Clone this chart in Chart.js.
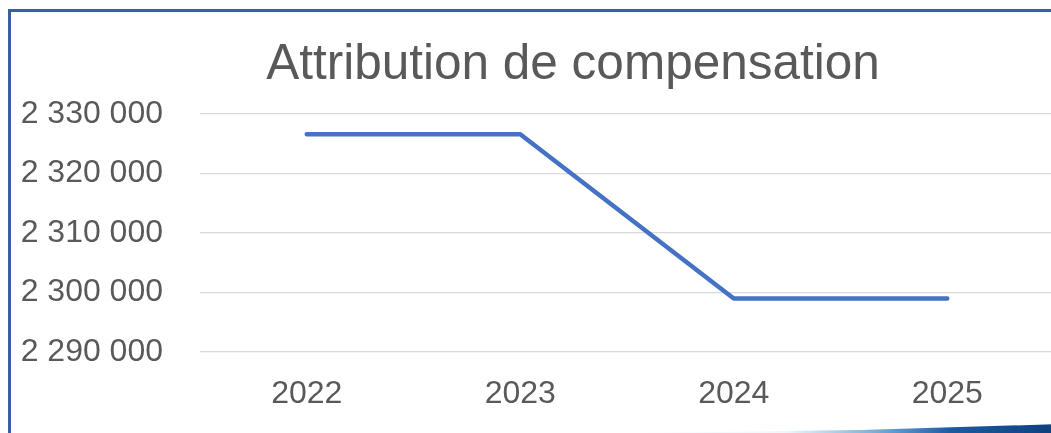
<!DOCTYPE html>
<html>
<head>
<meta charset="utf-8">
<script src="https://cdn.jsdelivr.net/npm/chart.js@4.4.1/dist/chart.umd.min.js"></script>
<style>
    html, body { margin: 0; padding: 0; background: #fff; overflow: hidden; }
    #frame {
        position: absolute; left: 8px; top: 9px; width: 1100px; height: 500px;
        border-left: 3px solid #3a5ea6; border-top: 3px solid #3a5ea6;
    }
    #swoosh {
        position: absolute; left: 560px; top: 412px; width: 500px; height: 22px;
        background: linear-gradient(to right, rgba(255,255,255,0) 0%, #eef8fc 45%, #7fb4dc 62%, #1d5aa3 78%, #0e3d7c 100%);
        clip-path: polygon(0% 100%, 60% 82%, 100% 55%, 100% 100%);
    }
    #wrap { position: absolute; left: 0; top: 0; width: 1054px; height: 433px; }
</style>
</head>
<body>
<div id="frame"></div>
<div id="swoosh"></div>
<div id="wrap"><canvas id="myChart"></canvas></div>
<script>
// --------------- data -----------------------
const years = ['2022', '2023', '2024', '2025'];
const compensation = [2326600, 2326600, 2299000, 2299000];
const yTicks = [2290000, 2300000, 2310000, 2320000, 2330000];
const chartTitle = 'Attribution de compensation';

const textColor = '#595959';
const fontFamily = '"Liberation Sans", Arial, sans-serif';

// --------------- format 2 330 000 -----------------------
function formatNumber(v) {
    return String(v).replace(/\B(?=(\d{3})+(?!\d))/g, ' ');
}

// title is centred a bit right of the canvas middle, like in the original
const shiftTitle = {
    id: 'shiftTitle',
    afterLayout(chart) {
        if (chart.titleBlock) chart.titleBlock.left = 92;
    }
};

// --------------- chart -----------------------
const ctx = document.getElementById('myChart').getContext('2d');
const myChart = new Chart(ctx, {
    type: 'line',
    data: {
        labels: years,
        datasets: [{
            label: chartTitle,
            data: compensation,
            borderColor: '#4472c4',
            borderWidth: 4.5,
            borderCapStyle: 'round',
            borderJoinStyle: 'round',
            pointRadius: 0,
            tension: 0,
            fill: false
        }]
    },
    plugins: [shiftTitle],
    options: {
        responsive: true,
        maintainAspectRatio: false,
        animation: false,
        layout: { padding: 0 },
        plugins: {
            legend: { display: false },
            tooltip: { enabled: false },
            title: {
                display: true,
                text: chartTitle,
                color: textColor,
                font: { family: fontFamily, size: 49.5, weight: 'normal', lineHeight: 1.2 },
                padding: { top: 36, bottom: 18.6 }
            }
        },
        scales: {
            x: {
                offset: true,
                grid: { display: false, drawTicks: false },
                border: { display: false },
                ticks: {
                    color: textColor,
                    padding: 23,
                    maxRotation: 0,
                    font: { family: fontFamily, size: 32 }
                },
                afterFit: function(scale) { scale.height = 81; }
            },
            y: {
                min: yTicks[0],
                max: yTicks[yTicks.length - 1],
                afterBuildTicks: function(scale) {
                    scale.ticks = yTicks.map(v => ({ value: v }));
                },
                grid: { color: '#d9d9d9', lineWidth: 1.2, drawTicks: false },
                border: { display: false },
                ticks: {
                    color: textColor,
                    padding: 37,
                    font: { family: fontFamily, size: 32 },
                    callback: function(value) { return formatNumber(value); }
                },
                afterFit: function(scale) { scale.width = 200; }
            }
        }
    }
});
</script>
</body>
</html>
